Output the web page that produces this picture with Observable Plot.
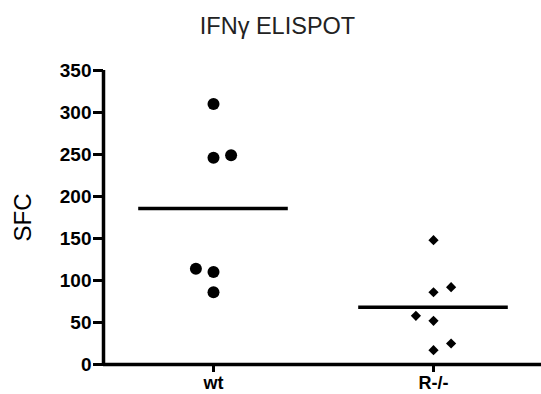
<!DOCTYPE html>
<html><head><meta charset="utf-8">
<script src="https://cdn.jsdelivr.net/npm/d3@7"></script>
<script src="https://cdn.jsdelivr.net/npm/@observablehq/plot@0.6"></script>
<style>
body{margin:0;background:#fff;font-family:"Liberation Sans",Arial,sans-serif;}
#title{height:48px;width:541px;box-sizing:border-box;padding-left:14px;padding-top:4px;text-align:center;font-size:23.5px;line-height:44px;color:#222;}
</style></head><body>
<div id="title">IFNγ ELISPOT</div>
<div id="chart"></div>
<script>
const groups = ["wt", "R-/-"];
const groupPos = [0.5, 1.5];
const wtValues = [310, 246, 249, 114, 110, 86];
const wtColumns = [0, 0, 1, -1, 0, 0];
const rValues = [148, 92, 86, 58, 52, 25, 17];
const rColumns = [0, 1, 0, -1, 0, 1, 0];
const yTicks = [0, 50, 100, 150, 200, 250, 300, 350];
const colStep = 0.08;
const halfLine = 0.34;

const wt = wtValues.map((v, i) => ({x: groupPos[0] + wtColumns[i] * colStep, y: v}));
const rr = rValues.map((v, i) => ({x: groupPos[1] + rColumns[i] * colStep, y: v}));
const means = [
  {pos: groupPos[0], mean: d3.mean(wtValues)},
  {pos: groupPos[1], mean: d3.mean(rValues)}
];

const chart = Plot.plot({
  width: 541,
  height: 346,
  marginTop: 22,
  marginBottom: 30,
  marginLeft: 103,
  marginRight: -2,
  style: {fontFamily: "Liberation Sans, Arial, sans-serif", color: "black", background: "white"},
  x: {type: "linear", domain: [0, 2]},
  y: {domain: [0, 350]},
  marks: [
    Plot.axisY({ticks: yTicks, tickSize: 10, tickPadding: 2, strokeWidth: 3, fontSize: 19, fontWeight: "bold", label: null}),
    Plot.axisY({ticks: [], label: "SFC", labelAnchor: "center", labelOffset: 90, fontSize: 24, labelArrow: "none"}),
    Plot.axisX({ticks: groupPos, tickFormat: d => groups[groupPos.indexOf(d)], tickSize: 8, tickPadding: 4, strokeWidth: 3, fontSize: 18, fontWeight: "bold", label: null}),
    Plot.ruleX([0], {strokeWidth: 3.5}),
    Plot.ruleY([0], {strokeWidth: 3.5}),
    Plot.dot(wt, {x: "x", y: "y", r: 6, fill: "black"}),
    Plot.dot(rr, {x: "x", y: "y", symbol: "diamond2", r: 4.6, fill: "black"}),
    Plot.ruleY(means, {y: "mean", x1: d => d.pos - halfLine, x2: d => d.pos + halfLine, strokeWidth: 3.5})
  ]
});
document.getElementById("chart").appendChild(chart);
</script>
</body></html>
